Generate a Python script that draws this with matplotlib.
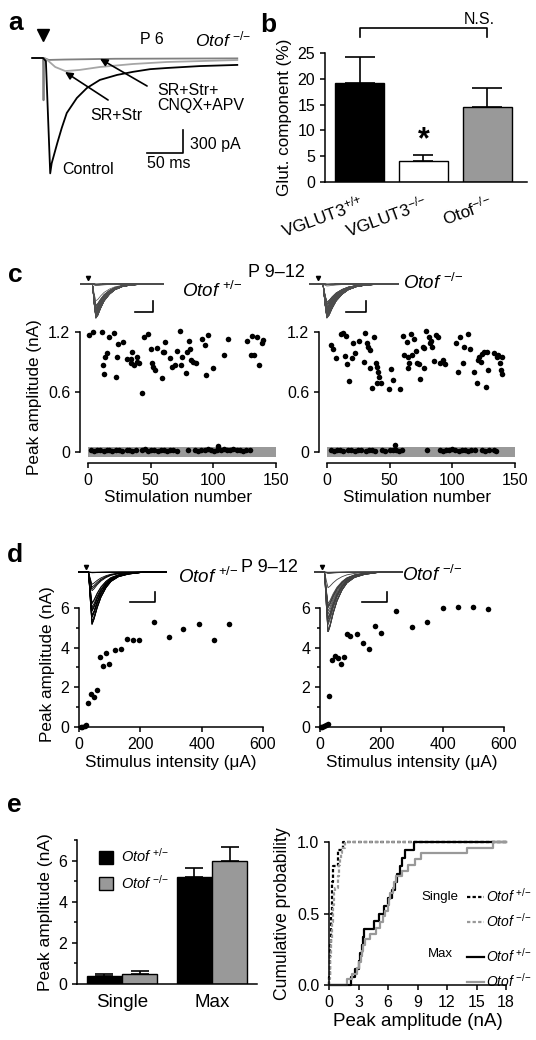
import matplotlib
matplotlib.use('Agg')
import matplotlib.pyplot as plt
import numpy as np
from matplotlib.ticker import MultipleLocator
from matplotlib.transforms import ScaledTranslation

plt.rcParams['font.family'] = ['Liberation Sans', 'DejaVu Sans']
plt.rcParams['mathtext.fontset'] = 'custom'
plt.rcParams['mathtext.rm'] = 'Liberation Sans'
plt.rcParams['mathtext.it'] = 'Liberation Sans:italic'
plt.rcParams['mathtext.bf'] = 'Liberation Sans:bold'
plt.rcParams['font.size'] = 11
plt.rcParams['axes.linewidth'] = 1.1
for k in ['xtick', 'ytick']:
    plt.rcParams[k + '.major.width'] = 1.1
    plt.rcParams[k + '.minor.width'] = 1.1
    plt.rcParams[k + '.major.size'] = 3.5
    plt.rcParams[k + '.minor.size'] = 2.5
    plt.rcParams[k + '.labelsize'] = 11.5
plt.rcParams['axes.labelsize'] = 12.3

# braces keep mathtext from spacing + and - like binary operators
HET = r'$\mathit{Otof}^{\ {+}/{-}}$'
KO = r'$\mathit{Otof}^{\ {-}/{-}}$'

# ---- panel a: example traces (time ms, current pA)
a_control_t = [-15, 0, 4, 10, 12, 20, 26, 33, 47, 61, 79, 103, 125, 149, 172, 218, 270]
a_control_i = [0, 0, -40, -1500, -1370, -1100, -910, -715, -520, -390, -285, -220, -180, -145, -130, -105, -90]
a_srstr_t = [-15, 0, 6, 17, 31, 51, 79, 125, 172, 218, 270]
a_srstr_i = [0, 0, -26, -117, -170, -155, -117, -78, -52, -40, -26]
a_cnqx_t = [-15, 0, 0.7, 1.4, 8, 30, 100, 270]
a_cnqx_i = [0, 0, -550, 0, -25, -20, -10, -5]

# ---- panel b
b_labels = [r'VGLUT3$^{{+}/{+}}$', r'VGLUT3$^{{-}/{-}}$', r'Otof$^{{-}/{-}}$']
b_mean = [19.1, 4.1, 14.6]
b_sem = [5.1, 1.1, 3.7]
b_colors = ['black', 'white', '0.6']

# ---- panel c: peak amplitude vs stimulation number
c_het_x = [1.1, 4.3, 11.4, 12.2, 13, 13.8, 15.5, 16.8, 21, 22, 22.9, 24.2, 28.2, 30.9, 34, 35.4, 34.3, 37, 38.9, 39.4,
           41, 42.8, 44.7, 47.6, 50, 50.8, 52.1, 53.5, 58.8, 54.8, 60.1, 61.4, 60.9, 65.5, 66.8, 69.4, 70.8, 73, 74.3, 74.8,
           77.8, 78.8, 80.2, 81.5, 82, 84, 86, 91, 93, 94, 96, 100, 108.8, 112, 126.6, 129.8, 131, 132.5, 134.7, 136.6,
           138.8, 140]
c_het_y = [1.17, 1.2, 1.2, 0.87, 0.78, 0.95, 0.99, 1.15, 1.19, 0.75, 0.95, 1.08, 1.1, 0.93, 0.93, 1.0, 0.89, 0.87, 0.95, 0.9,
           0.89, 0.59, 1.15, 1.18, 1.03, 0.89, 0.85, 0.82, 0.74, 1.04, 1.0, 1.1, 1.0, 0.94, 0.85, 0.87, 1.01, 1.21, 0.87, 0.95,
           0.79, 1.0, 1.11, 1.03, 0.92, 0.9, 0.89, 1.13, 1.07, 0.77, 1.17, 0.84, 0.97, 1.13, 1.11, 0.97, 1.16, 0.97, 1.15, 0.87,
           1.09, 1.12]
c_het_zero_x = [2, 4.5, 7, 9.5, 12.5, 15, 17, 19.5, 22, 24.5, 27.5, 31, 33, 35, 38.3, 43, 45.5, 48, 50.5, 53, 55.5, 58,
                60.5, 63, 65.5, 68, 71, 80, 85.5, 88, 90.5, 93, 95.5, 98, 100.5, 103, 104, 106, 108.5, 111, 113.5, 116,
                118.5, 121, 123.5, 126, 129]
c_het_zero_y = [0.02, 0.01, 0.02, 0.02, 0.01, 0.02, 0.02, 0.01, 0.02, 0.02, 0.01, 0.02, 0.02, 0.01, 0.02, 0.02, 0.03, 0.01,
                0.02, 0.02, 0.01, 0.02, 0.02, 0.01, 0.02, 0.02, 0.01, 0.02, 0.02, 0.01, 0.02, 0.02, 0.03, 0.02, 0.01, 0.02,
                0.06, 0.02, 0.03, 0.02, 0.02, 0.03, 0.02, 0.02, 0.01, 0.02, 0.02]
c_ko_x = [2.9, 4.5, 7.2, 11.2, 13.1, 15.2, 14.4, 16.2, 17.8, 19.7, 21, 22.4, 25.8, 29.6, 30.4, 31.7, 33, 34.3, 34.3, 36.2,
          37.5, 39.1, 40.2, 41, 41.8, 40.2, 42.8, 49.7, 51, 52.4, 58.2, 60.9, 61.5, 63.6, 64.4, 65, 65.8, 67.1, 68.2, 69.5,
          70.8, 71.6, 73.5, 74.3, 76.4, 77, 77.5, 79.1, 81, 81.8, 83, 84.1, 85, 86.7, 88.4, 90.2, 92.3, 94.2, 103, 104.3,
          106.2, 108.3, 109.4, 112.3, 114.1, 117.3, 119.5, 120.8, 121.6, 122.6, 124, 125.6, 126.9, 127.5, 128.8, 133.3,
          135.4, 136.8, 138.1, 138.9, 139.5, 140]
c_ko_y = [1.07, 1.03, 0.94, 1.18, 1.19, 1.16, 0.96, 0.88, 0.71, 0.94, 1.09, 0.99, 1.11, 0.90, 1.19, 1.09, 1.05, 1.02, 0.84,
          0.64, 1.15, 0.89, 0.85, 0.80, 0.75, 0.69, 0.69, 0.63, 0.83, 0.72, 0.63, 1.16, 0.97, 1.10, 0.95, 0.84, 0.89, 1.18,
          0.97, 1.13, 1.01, 0.89, 0.88, 0.73, 1.05, 0.84, 1.04, 1.21, 1.15, 1.09, 1.11, 1.05, 0.91, 1.17, 1.15, 0.89, 0.92,
          0.88, 1.09, 0.80, 1.15, 0.89, 1.05, 1.18, 1.03, 0.80, 0.69, 0.92, 0.95, 0.90, 0.98, 1.00, 0.65, 1.00, 0.82, 0.99,
          0.95, 0.97, 0.89, 0.82, 0.78, 0.95]
c_ko_zero_x = [3, 5.5, 8, 10.5, 13, 17, 19.5, 22, 24.5, 27, 31, 33.5, 36, 38.5, 44, 46.5, 50, 52.5, 54.3, 55, 57.5, 60,
               80, 90, 92.5, 95, 97.5, 100, 102.5, 105, 107.5, 110, 112.5, 115, 118, 123.5, 126, 129, 133, 135]
c_ko_zero_y = [0.02, 0.01, 0.02, 0.02, 0.01, 0.02, 0.02, 0.01, 0.02, 0.02, 0.01, 0.02, 0.02, 0.01, 0.02, 0.01, 0.02, 0.02,
               0.07, 0.02, 0.01, 0.02, 0.02, 0.02, 0.01, 0.02, 0.02, 0.03, 0.02, 0.01, 0.02, 0.02, 0.01, 0.02, 0.02, 0.02,
               0.01, 0.02, 0.02, 0.01]

# inset EPSC shape (ms, fraction of peak)
c_tpl_t = [-4, 2.5, 3.5, 4.4, 5.5, 7, 9, 12, 15, 19, 24, 30, 42]
c_tpl_v = [0, 0, -0.6, -1.0, -0.92, -0.72, -0.5, -0.3, -0.17, -0.08, -0.03, -0.01, 0]
d_tpl_t = [-3, 1.0, 1.8, 2.4, 3.2, 4.5, 6, 8, 10, 13, 17, 22, 32]
d_tpl_v = [0, 0, -0.6, -1.0, -0.9, -0.68, -0.48, -0.3, -0.18, -0.09, -0.04, -0.01, 0]

# ---- panel d: peak amplitude vs stimulus intensity
d_het_x = [5, 10, 18, 24, 30.4, 38, 49, 60, 68.6, 79.5, 88.2, 97.9, 117.5, 136, 155.6, 175.2, 194.8, 244.8, 293.8, 340.5,
           390.5, 440.5, 488.3]
d_het_y = [0, 0.02, 0.05, 0.08, 1.23, 1.67, 1.5, 1.87, 3.52, 3.08, 3.72, 3.18, 3.89, 3.92, 4.43, 4.40, 4.40, 5.27, 4.56,
           4.93, 5.19, 4.40, 5.19]
d_ko_x = [3, 8, 14, 20, 25, 29.5, 38.3, 49.2, 60.1, 68.9, 78.7, 89.6, 98.4, 120.2, 139.9, 159.6, 180.3, 200, 249.2, 299.5,
          349.7, 400, 449.2, 499.5, 548.6]
d_ko_y = [0, 0.02, 0.05, 0.1, 0.15, 1.57, 3.38, 3.59, 3.47, 3.17, 3.55, 4.70, 4.60, 4.68, 4.23, 3.92, 5.07, 4.73, 5.86,
          5.03, 5.30, 5.99, 6.03, 6.07, 5.96]

# ---- panel e
e_groups = ['Single', 'Max']
e_het_mean = [0.39, 5.18]
e_het_sem = [0.09, 0.46]
e_ko_mean = [0.50, 5.99]
e_ko_sem = [0.13, 0.68]
cdf_single_het = [0.05, 0.08, 0.1, 0.12, 0.15, 0.18, 0.2, 0.22, 0.25, 0.28, 0.3, 0.33, 0.35, 0.37, 0.37, 0.9, 0.95, 1.4]
cdf_single_ko = [0.05, 0.08, 0.1, 0.12, 0.15, 0.18, 0.2, 0.25, 0.28, 0.3, 0.33, 0.36, 0.4, 0.45, 0.5, 0.55, 0.6, 0.9,
                 0.95, 1.0, 1.0, 1.1, 1.2, 1.3, 1.6]
cdf_max_het = [2.2, 2.6, 3.0, 3.2, 3.35, 3.45, 3.6, 4.6, 5.1, 5.6, 6.0, 6.4, 6.7, 6.9, 7.2, 7.4, 7.7, 8.6]
cdf_max_ko = [1.8, 2.3, 2.8, 3.1, 3.3, 3.4, 3.5, 3.7, 4.2, 4.8, 5.2, 5.5, 5.7, 6.0, 6.1, 6.2, 6.5, 6.6, 6.8, 7.4, 8.0,
              8.7, 9.4, 14.0, 16.7]

W, H = 536, 1040
fig = plt.figure(figsize=(W / 100, H / 100), dpi=100)


def box(x0, y0, x1, y1):
    # pixel rectangle (from top-left) -> figure fraction
    return [x0 / W, 1 - y1 / H, (x1 - x0) / W, (y1 - y0) / H]


def ftext(x, y, s, **kw):
    fig.text(x / W, 1 - y / H, s, va='baseline', **kw)


def clean(ax):
    ax.spines['top'].set_visible(False)
    ax.spines['right'].set_visible(False)


# panel letters
for s, x, y in [('a', 8, 30), ('b', 260, 32), ('c', 8, 282), ('d', 7, 562), ('e', 7, 812)]:
    ftext(x, y, s, fontsize=19, fontweight='bold')

# ---------------- a
ax = fig.add_axes(box(30, 25, 260, 185))
ax.axis('off')
ax.set_xlim(-18.1, 301.6)
ax.set_ylim(-1651, 429)
ax.plot(a_cnqx_t, a_cnqx_i, color='0.5', lw=1.3)
ax.plot(a_srstr_t, a_srstr_i, color='0.65', lw=1.3)
ax.plot(a_control_t, a_control_i, color='black', lw=1.3)
ax.plot([0], [299], 'v', color='black', ms=9)
ax.plot([144.6, 194.6, 194.6], [-1235, -1235, -935], color='black', lw=1.2)
ax.text(204, -1131, '300 pA', va='center', fontsize=11.5)
ax.text(144.6, -1365, '50 ms', va='center', fontsize=11.5)
ax.text(151.5, 234, 'P 6', ha='center', va='center', fontsize=11.5)
ax.text(211, 247, KO, va='center', fontsize=12.5)
ax.text(26.4, -1443, 'Control', va='center', fontsize=11.5)
ax.text(65.3, -741, 'SR+Str', va='center', fontsize=11.5)
ax.text(158.5, -320, 'SR+Str+\nCNQX+APV', va='top', fontsize=11.5, linespacing=1.05)
arrow = dict(arrowstyle='-|>', color='black', lw=1.2, mutation_scale=11, shrinkA=0, shrinkB=0)
ax.annotate('', xy=(30.6, -182), xytext=(90.4, -546), arrowprops=arrow)
ax.annotate('', xy=(79.2, -10), xytext=(144.6, -364), arrowprops=arrow)

# ---------------- b
ax = fig.add_axes(box(325, 53, 527, 182))
clean(ax)
xb = np.arange(len(b_mean))
ax.bar(xb, b_mean, width=0.77, color=b_colors, edgecolor='black', linewidth=1, zorder=2)
for i in range(len(b_mean)):
    ax.errorbar(xb[i], b_mean[i], yerr=[[0], [b_sem[i]]], fmt='none', ecolor='black', elinewidth=1.2,
                capthick=1.2, capsize=7.5 if i == 1 else 11, zorder=3)
ax.set_xlim(-0.54, 2.62)
ax.set_ylim(0, 25)
ax.set_yticks([0, 5, 10, 15, 20, 25])
ax.set_xticks(xb)
ax.set_xticklabels(b_labels, rotation=20, ha='right', rotation_mode='anchor', fontsize=12.4)
shift = ScaledTranslation(0.13, 0, fig.dpi_scale_trans)
for lab in ax.get_xticklabels():
    lab.set_transform(lab.get_transform() + shift)
ax.tick_params(axis='x', length=0, pad=7)
ax.set_ylabel('Glut. component (%)')
ax.plot([0, 0, 2, 2], [28.1, 29.8, 29.8, 28.1], color='black', lw=1.2, clip_on=False)
ax.text(1.87, 31.5, 'N.S.', ha='center', va='center', fontsize=11.5)
ax.text(1, 8.0, '*', ha='center', va='center', fontsize=22, fontweight='bold')

# ---------------- c
c_sets = [(80, c_het_x, c_het_y, c_het_zero_x, c_het_zero_y, HET, 182, 297, 36.1),
          (319, c_ko_x, c_ko_y, c_ko_zero_x, c_ko_zero_y, KO, 403, 289, 23.9)]
for j, (x0, xs, ys, zx, zy, name, tx, ty, sbx) in enumerate(c_sets):
    ax = fig.add_axes(box(x0, 332, x0 + 197, 463))
    clean(ax)
    ax.set_xlim(-6.4, 150.8)
    ax.set_ylim(-0.11, 1.2)
    ax.fill_between([0, 150], -0.05, 0.05, color='0.6', lw=0, zorder=1)
    ax.plot(xs, ys, 'o', color='black', ms=4, mew=0, clip_on=False, zorder=3)
    ax.plot(zx, zy, 'o', color='black', ms=4, mew=0, clip_on=False, zorder=3)
    ax.spines['left'].set_bounds(0, 1.2)
    ax.spines['bottom'].set_bounds(0, 150)
    ax.set_yticks([0, 0.6, 1.2])
    ax.set_yticklabels(['0', '0.6', '1.2'])
    ax.set_xticks([0, 50, 100, 150])
    ax.set_xlabel('Stimulation number', labelpad=2)
    if j == 0:
        ax.set_ylabel('Peak amplitude (nA)')
    ftext(tx, ty, name, fontsize=13.5)
    # inset traces
    ins = fig.add_axes(box(x0 + (0 if j == 0 else -10), 274, x0 + (90 if j == 0 else 80), 322))
    ins.axis('off')
    ins.set_xlim(-4.4, 45.6 if j == 0 else 40.0)
    ins.set_ylim(-1.34, 0.353)
    for a in list(ys) + list(zy):
        ins.plot(c_tpl_t, np.array(c_tpl_v) * a, color='0.3', lw=0.5)
    ins.plot([0], [0.2], 'v', color='black', ms=3)
    ins.plot([sbx - 10, sbx, sbx], [-0.99, -0.99, -0.59], color='black', lw=1.2)
ftext(248, 277, 'P 9\u201312', fontsize=13)

# ---------------- d
d_sets = [(79, d_het_x, d_het_y, HET, 178, 583, 27.6),
          (320, d_ko_x, d_ko_y, KO, 402, 581, 26.0)]
for j, (x0, xs, ys, name, tx, ty, sbx) in enumerate(d_sets):
    ax = fig.add_axes(box(x0, 602, x0 + 184, 727))
    clean(ax)
    ax.set_xlim(0, 600)
    ax.set_ylim(0, 6.3)
    ax.plot(xs, ys, 'o', color='black', ms=4, mew=0, clip_on=False, zorder=3)
    ax.spines['left'].set_bounds(0, 6)
    ax.set_yticks([0, 2, 4, 6])
    ax.yaxis.set_minor_locator(MultipleLocator(1))
    ax.set_xticks([0, 200, 400, 600])
    ax.set_xlabel('Stimulus intensity (\u03bcA)', labelpad=2)
    if j == 0:
        ax.set_ylabel('Peak amplitude (nA)')
    ftext(tx, ty, name, fontsize=13.5)
    ins = fig.add_axes(box(x0 - 1 + (0 if j == 0 else -5), 560, x0 + 93 + (0 if j == 0 else -5), 632))
    ins.axis('off')
    ins.set_xlim(-3.2, 34.4)
    ins.set_ylim(-6.0, 1.2)
    for a in ys:
        ins.plot(d_tpl_t, np.array(d_tpl_v) * a, color='black' if j == 0 else '0.25', lw=0.6)
    ins.plot([0], [0.55], 'v', color='black', ms=3)
    ins.plot([sbx - 10, sbx, sbx], [-3.0, -3.0, -2.0], color='black', lw=1.2)
ftext(241, 572, 'P 9\u201312', fontsize=13)

# ---------------- e left (bars)
ax = fig.add_axes(box(77, 840, 257, 984))
clean(ax)
xe = np.arange(len(e_groups))
wb = 0.39
ax.bar(xe - wb / 2, e_het_mean, width=wb, color='black', edgecolor='black', lw=1, label=HET, zorder=2)
ax.bar(xe + wb / 2, e_ko_mean, width=wb, color='0.6', edgecolor='black', lw=1, label=KO, zorder=2)
ax.errorbar(xe - wb / 2, e_het_mean, yerr=[[0, 0], e_het_sem], fmt='none', ecolor='black', elinewidth=1.2,
            capthick=1.2, capsize=6.5, zorder=3)
ax.errorbar(xe + wb / 2, e_ko_mean, yerr=[[0, 0], e_ko_sem], fmt='none', ecolor='black', elinewidth=1.2,
            capthick=1.2, capsize=6.5, zorder=3)
ax.set_xlim(-0.5, 1.5)
ax.set_ylim(0, 7)
ax.set_yticks([0, 2, 4, 6])
ax.yaxis.set_minor_locator(MultipleLocator(1))
ax.set_xticks(xe)
ax.set_xticklabels(e_groups, fontsize=13.5)
ax.tick_params(axis='x', length=0, pad=7)
ax.set_ylabel('Peak amplitude (nA)', fontsize=12.5)
ax.legend(loc='upper left', bbox_to_anchor=(0.08, 1.0), frameon=False, fontsize=10.5,
          handlelength=1.0, handleheight=1.0, handletextpad=0.5, labelspacing=0.6, borderpad=0)

# ---------------- e right (cumulative)
ax = fig.add_axes(box(329, 842, 506, 985))
clean(ax)
styles = [(cdf_single_het, 'black', (0, (1.5, 1))), (cdf_single_ko, '0.6', (0, (1.5, 1))),
          (cdf_max_het, 'black', '-'), (cdf_max_ko, '0.6', '-')]
lines = []
for vals, col, ls in styles:
    v = np.sort(vals)
    n = len(v)
    xs = np.concatenate([[0], v, [18]])
    ys = np.concatenate([[0], np.arange(1, n + 1) / n, [1]])
    ln, = ax.step(xs, ys, where='post', color=col, ls=ls, lw=1.6, clip_on=False)
    lines.append(ln)
ax.set_xlim(0, 18)
ax.set_ylim(0, 1)
ax.set_xticks(np.arange(0, 19, 3))
ax.set_yticks([0, 0.5, 1.0])
ax.set_yticklabels(['0.0', '0.5', '1.0'])
ax.set_xlabel('Peak amplitude (nA)', fontsize=13.5, labelpad=2)
ax.set_ylabel('Cumulative probability', fontsize=12.7)
leg1 = ax.legend(lines[:2], [HET, KO], loc='upper left', bbox_to_anchor=(0.74, 0.735), frameon=False,
                 fontsize=10, handlelength=1.2, handletextpad=0.2, labelspacing=0.5, borderpad=0)
ax.add_artist(leg1)
ax.legend(lines[2:], [HET, KO], loc='upper left', bbox_to_anchor=(0.74, 0.315), frameon=False,
          fontsize=10, handlelength=1.2, handletextpad=0.2, labelspacing=0.5, borderpad=0)
ax.text(0.627, 0.615, 'Single', transform=ax.transAxes, ha='center', va='center', fontsize=9.5)
ax.text(0.627, 0.217, 'Max', transform=ax.transAxes, ha='center', va='center', fontsize=9.5)

fig.savefig('out.png', dpi=100)
